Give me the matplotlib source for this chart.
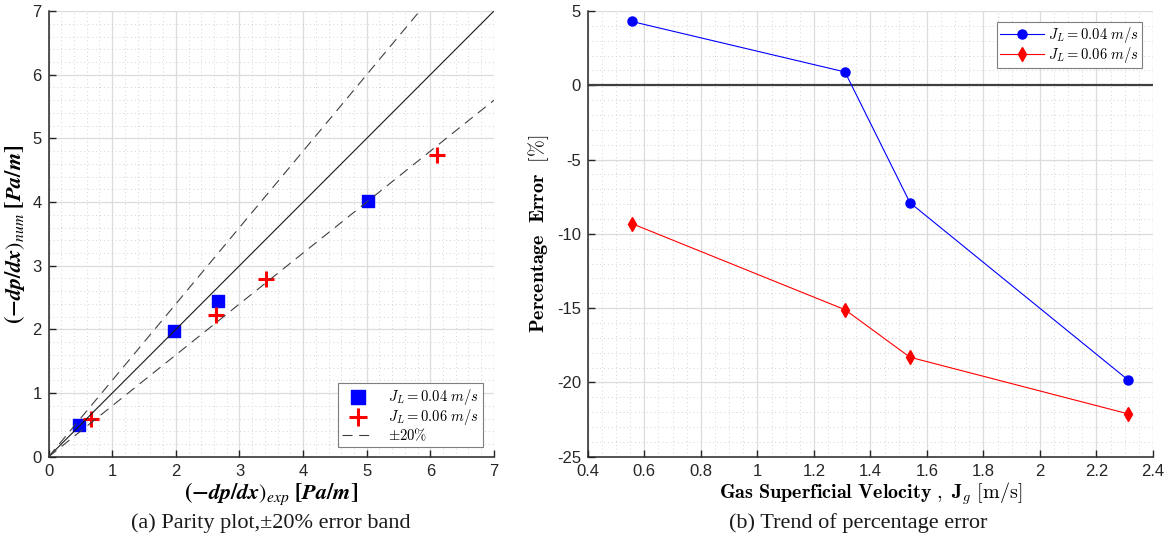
import numpy as np
import matplotlib
matplotlib.use('Agg')
import matplotlib.pyplot as plt
from matplotlib.ticker import MultipleLocator

plt.rcParams['mathtext.fontset'] = 'cm'
plt.rcParams['axes.unicode_minus'] = False
plt.rcParams['font.family'] = ['Liberation Sans', 'DejaVu Sans']

# parity data, measured vs simulated pressure gradient
exp_jl004 = [0.48, 1.97, 2.66, 5.02]
num_jl004 = [0.50, 1.98, 2.44, 4.02]
exp_jl006 = [0.66, 2.63, 3.42, 6.11]
num_jl006 = [0.60, 2.23, 2.79, 4.74]

# percentage error against gas superficial velocity
jg = [0.555, 1.31, 1.54, 2.31]
err_jl004 = [4.3, 0.9, -7.9, -19.8]
err_jl006 = [-9.3, -15.1, -18.3, -22.1]

band = 0.2
legend_labels = [r'$J_L = 0.04\ m/s$', r'$J_L = 0.06\ m/s$']


def style_axes(ax, major_x, minor_x, major_y, minor_y):
    ax.xaxis.set_major_locator(MultipleLocator(major_x))
    ax.xaxis.set_minor_locator(MultipleLocator(minor_x))
    ax.yaxis.set_major_locator(MultipleLocator(major_y))
    ax.yaxis.set_minor_locator(MultipleLocator(minor_y))
    ax.grid(which='major', color='#dcdcdc', linewidth=0.9, linestyle='-')
    ax.grid(which='minor', color='#d4d4d4', linewidth=0.7, linestyle=(0, (1, 3)))
    ax.set_axisbelow(True)
    for side in ['top', 'right']:
        ax.spines[side].set_visible(False)
    for side in ['left', 'bottom']:
        ax.spines[side].set_color('#262626')
        ax.spines[side].set_linewidth(1.1)
    ax.tick_params(which='major', direction='in', length=5, width=1.0,
                   labelsize=12, colors='#262626', pad=5)
    ax.tick_params(which='minor', length=0)


fig = plt.figure(figsize=(11.71, 5.52), dpi=100)
ax1 = fig.add_axes([0.0415, 0.1725, 0.3803, 0.8075])
ax2 = fig.add_axes([0.502, 0.1725, 0.4826, 0.8075])

# (a) parity plot
line_x = np.array([0, 7])
ax1.scatter(exp_jl004, num_jl004, marker='s', s=75, color='#0000ff', zorder=3,
            label=legend_labels[0])
ax1.scatter(exp_jl006, num_jl006, marker='+', s=130, linewidths=2.2, color='#ff0000',
            zorder=3, label=legend_labels[1])
ax1.plot(line_x, line_x, color='#1a1a1a', linewidth=0.8, zorder=4)
ax1.plot(line_x, (1 + band) * line_x, color='#404040', linewidth=0.8,
         dashes=(9, 6), zorder=4, label=r'$\pm 20\%$')
ax1.plot(line_x, (1 - band) * line_x, color='#404040', linewidth=0.8,
         dashes=(9, 6), zorder=4)
ax1.set_xlim(0, 7)
ax1.set_ylim(0, 7)
style_axes(ax1, 1, 0.2, 1, 0.2)
ax1.set_xlabel(r'$\boldsymbol{(-dp/dx)_{exp}\ [Pa/m]}$', fontsize=16,
               math_fontfamily='stix', labelpad=1)
ax1.set_ylabel(r'$\boldsymbol{(-dp/dx)_{num}\ [Pa/m]}$', fontsize=16,
               math_fontfamily='stix', labelpad=4)
leg1 = ax1.legend(loc='lower right', fontsize=10.5, fancybox=False, framealpha=1,
                  edgecolor='#7f7f7f', borderpad=0.25, handlelength=2.2,
                  labelspacing=0.0, handletextpad=1.0, borderaxespad=0,
                  markerscale=1.1, bbox_to_anchor=(0.975, 0.022))
leg1.get_frame().set_linewidth(0.8)

# (b) percentage error trend
ax2.axhline(0, color='#404040', linewidth=1.6, zorder=2)
ax2.plot(jg, err_jl004, color='#0000ff', linewidth=0.8, marker='o', markersize=6.5,
         zorder=3, label=legend_labels[0])
ax2.plot(jg, err_jl006, color='#ff0000', linewidth=0.8, marker='d', markersize=7,
         zorder=3, label=legend_labels[1])
ax2.set_xlim(0.4, 2.4)
ax2.set_ylim(-25, 5)
style_axes(ax2, 0.2, 0.05, 5, 1)
ax2.xaxis.set_major_formatter(plt.FuncFormatter(lambda v, p: f'{v:g}'))
ax2.set_xlabel(r'$\mathbf{Gas\ Superficial\ Velocity\ ,\ J}_{g}\ [\mathrm{m/s}]$',
               fontsize=14.5, labelpad=1)
ax2.set_ylabel(r'$\mathbf{Percentage\ \ Error}\ \ [\%]$', fontsize=14.5, labelpad=4)
leg2 = ax2.legend(loc='upper right', fontsize=10.5, fancybox=False, framealpha=1,
                  edgecolor='#7f7f7f', borderpad=0.2, handlelength=3.0,
                  labelspacing=0.0, handletextpad=0.3, borderaxespad=0,
                  bbox_to_anchor=(0.98, 0.975))
leg2.get_frame().set_linewidth(0.8)

fig.text(0.231, 0.052, '(a) Parity plot,±20% error band', ha='center', va='center',
         fontsize=16, family='Liberation Serif', color='#1a1a1a')
fig.text(0.733, 0.052, '(b) Trend of percentage error', ha='center', va='center',
         fontsize=16, family='Liberation Serif', color='#1a1a1a')

fig.savefig('out.png', dpi=100)
